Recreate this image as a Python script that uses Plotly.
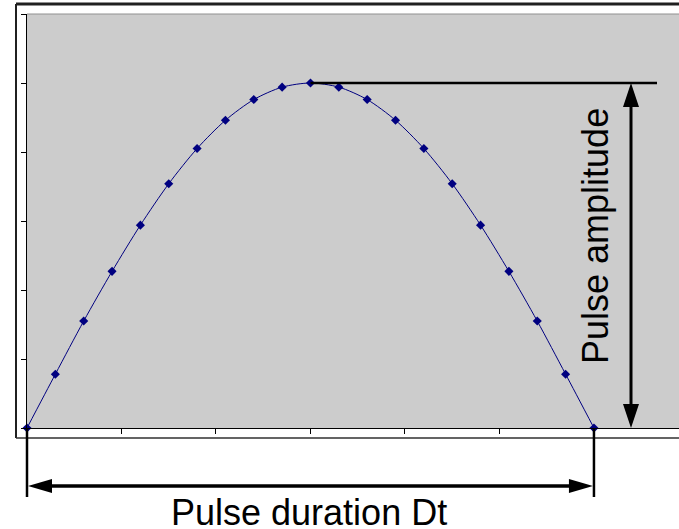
import plotly.graph_objects as go

# ---- data ----
time_values = [0, 3, 6, 9, 12, 15, 18, 21, 24, 27, 30, 33, 36, 39, 42, 45, 48, 51, 54, 57, 60]
pulse_values = [0.0, 0.78, 1.55, 2.27, 2.94, 3.54, 4.05, 4.46, 4.76, 4.94, 5.0,
                4.94, 4.76, 4.46, 4.05, 3.54, 2.94, 2.27, 1.55, 0.78, 0.0]
x_tick_values = [0, 10, 20, 30, 40, 50, 60]
y_tick_values = [0, 1, 2, 3, 4, 5, 6]
amplitude_label = "Pulse amplitude"
duration_label = "Pulse duration Dt"

# ---- geometry ----
W, H = 679, 529
ML, MR, MT, MB = 27, 0, 14, 101
PW, PH = W - ML - MR, H - MT - MB
XR = [0, 69]
YR = [0, 6]

def xp(x):
    return (x - XR[0]) / (XR[1] - XR[0])

def yp(y):
    return (y - YR[0]) / (YR[1] - YR[0])

def px2paper_x(px):
    return (px - ML) / PW

def px2paper_y(py):
    return (MT + PH - py) / PH

t_start, t_end = time_values[0], time_values[-1]
peak = max(pulse_values)
t_peak = time_values[pulse_values.index(peak)]

fig = go.Figure()
fig.add_trace(go.Scatter(
    x=time_values, y=pulse_values, mode="lines+markers",
    line=dict(color="#000080", width=1, shape="spline", smoothing=0.8),
    marker=dict(symbol="diamond", size=7, color="#000080"),
    cliponaxis=False, showlegend=False, hoverinfo="skip",
))

shapes = []
# outer frame
fx0 = px2paper_x(16)
fy_top = px2paper_y(4)
fy_bot = px2paper_y(438)
shapes.append(dict(type="line", xref="paper", yref="paper", x0=fx0, x1=1.05, y0=fy_top, y1=fy_top,
                   line=dict(color="#202020", width=3)))
shapes.append(dict(type="line", xref="paper", yref="paper", x0=fx0, x1=fx0, y0=fy_top, y1=fy_bot,
                   line=dict(color="#202020", width=2)))
shapes.append(dict(type="line", xref="paper", yref="paper", x0=fx0, x1=1.05, y0=fy_bot, y1=fy_bot,
                   line=dict(color="#303030", width=1.5)))
# plot area top border
shapes.append(dict(type="line", xref="paper", yref="paper", x0=0, x1=1.05, y0=1, y1=1,
                   line=dict(color="#909090", width=1)))

# amplitude marker line at peak
amp_x = px2paper_x(631)
shapes.append(dict(type="line", xref="paper", yref="paper", x0=xp(t_peak), x1=px2paper_x(657),
                   y0=yp(peak), y1=yp(peak), line=dict(color="black", width=2.5)))
# vertical double arrow
shapes.append(dict(type="line", xref="paper", yref="paper", x0=amp_x, x1=amp_x,
                   y0=yp(peak) - 0.03, y1=yp(0) + 0.03, line=dict(color="black", width=3)))
shapes.append(dict(type="path", xref="paper", yref="paper", xsizemode="pixel", ysizemode="pixel",
                   xanchor=amp_x, yanchor=yp(peak), path="M0,0 L-8,-24 L8,-24 Z",
                   fillcolor="black", line=dict(width=0)))
shapes.append(dict(type="path", xref="paper", yref="paper", xsizemode="pixel", ysizemode="pixel",
                   xanchor=amp_x, yanchor=yp(0), path="M0,0 L-8,24 L8,24 Z",
                   fillcolor="black", line=dict(width=0)))

# duration markers
y_ext0 = yp(0)
y_ext1 = px2paper_y(497)
y_arrow = px2paper_y(486)
for tx in (t_start, t_end):
    shapes.append(dict(type="line", xref="paper", yref="paper", x0=xp(tx), x1=xp(tx),
                       y0=y_ext0, y1=y_ext1, line=dict(color="black", width=2.5)))
shapes.append(dict(type="line", xref="paper", yref="paper", x0=xp(t_start) + 0.02, x1=xp(t_end) - 0.02,
                   y0=y_arrow, y1=y_arrow, line=dict(color="black", width=3.5)))
shapes.append(dict(type="path", xref="paper", yref="paper", xsizemode="pixel", ysizemode="pixel",
                   xanchor=xp(t_start), yanchor=y_arrow, path="M1,0 L25,7 L25,-7 Z",
                   fillcolor="black", line=dict(width=0)))
shapes.append(dict(type="path", xref="paper", yref="paper", xsizemode="pixel", ysizemode="pixel",
                   xanchor=xp(t_end), yanchor=y_arrow, path="M-1,0 L-25,7 L-25,-7 Z",
                   fillcolor="black", line=dict(width=0)))

annotations = [
    dict(text=amplitude_label, xref="paper", yref="paper", x=px2paper_x(596), y=px2paper_y(236),
         xanchor="center", yanchor="middle", textangle=-90, showarrow=False,
         font=dict(family="Liberation Sans, Arial, sans-serif", size=36, color="black")),
    dict(text=duration_label, xref="paper", yref="paper", x=px2paper_x(309), y=px2paper_y(512),
         xanchor="center", yanchor="middle", showarrow=False,
         font=dict(family="Liberation Sans, Arial, sans-serif", size=36, color="black")),
]

fig.update_layout(
    width=W, height=H, margin=dict(l=ML, r=MR, t=MT, b=MB, pad=0),
    paper_bgcolor="white", plot_bgcolor="#CCCCCC",
    shapes=shapes, annotations=annotations, showlegend=False,
    xaxis=dict(range=XR, tickvals=x_tick_values, showticklabels=False, ticks="outside", ticklen=5,
               tickcolor="black", showline=True, linecolor="black", linewidth=1,
               showgrid=False, zeroline=False, fixedrange=True),
    yaxis=dict(range=YR, tickvals=y_tick_values, showticklabels=False, ticks="outside", ticklen=5,
               tickcolor="black", showline=True, linecolor="black", linewidth=1,
               showgrid=False, zeroline=False, fixedrange=True),
)

fig.write_html("out.html", config={"displayModeBar": False})
